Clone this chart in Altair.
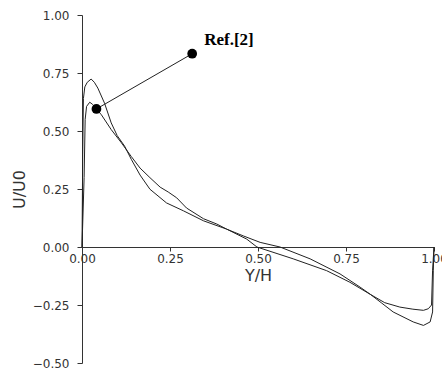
import altair as alt
import pandas as pd

# Curve A (higher near-wall peak)
a_x = [0.0, 0.002, 0.004, 0.008, 0.015, 0.026, 0.035, 0.045, 0.064, 0.083, 0.10, 0.121,
       0.14, 0.165, 0.193, 0.24, 0.288, 0.345, 0.411, 0.458, 0.506, 0.5625, 0.648, 0.733,
       0.79, 0.82, 0.85, 0.884, 0.941, 0.97, 0.989, 0.996, 0.998, 1.0]
a_y = [0.0, 0.40, 0.64, 0.69, 0.71, 0.724, 0.71, 0.685, 0.62, 0.535, 0.48, 0.435,
       0.378, 0.31, 0.249, 0.19, 0.156, 0.113, 0.077, 0.048, 0.02, 0.0, -0.051, -0.116,
       -0.173, -0.205, -0.24, -0.28, -0.323, -0.338, -0.323, -0.28, -0.1, 0.0]

# Curve B (lower near-wall peak)
b_x = [0.0, 0.006, 0.009, 0.013, 0.022, 0.03, 0.041, 0.055, 0.083, 0.112, 0.14, 0.165,
       0.193, 0.222, 0.245, 0.269, 0.297, 0.345, 0.383, 0.411, 0.468, 0.497, 0.6, 0.695,
       0.761, 0.82, 0.86, 0.903, 0.94, 0.97, 0.984, 0.993, 0.996, 1.0]
b_y = [0.0, 0.30, 0.55, 0.606, 0.624, 0.615, 0.595, 0.57, 0.506, 0.449, 0.39, 0.34,
       0.299, 0.258, 0.237, 0.212, 0.168, 0.122, 0.099, 0.077, 0.034, 0.0, -0.051, -0.102,
       -0.152, -0.205, -0.24, -0.259, -0.268, -0.273, -0.266, -0.25, -0.1, 0.0]

# Annotation "Ref.[2]" pointer
ref_x = [0.041, 0.313]
ref_y = [0.595, 0.833]
label_x = [0.347]
label_y = [0.871]
label_text = ["Ref.[2]"]

rows = []
for i, (x, y) in enumerate(zip(a_x, a_y)):
    rows.append({"x": x, "y": y, "series": "A", "i": i})
for i, (x, y) in enumerate(zip(b_x, b_y)):
    rows.append({"x": x, "y": y, "series": "B", "i": i})
curves = pd.DataFrame(rows)
ref = pd.DataFrame({"x": ref_x, "y": ref_y})
lab = pd.DataFrame({"x": label_x, "y": label_y, "t": label_text})

xs = alt.Scale(domain=[0, 1], nice=False, zero=False)
ys = alt.Scale(domain=[-0.5, 1.0], nice=False, zero=False)

xaxis = alt.Axis(values=[0, 0.25, 0.5, 0.75, 1.0], format=".2f", title="Y/H",
                 offset=-116, grid=False, tickSize=4, labelPadding=2,
                 titlePadding=3, labelFont="DejaVu Sans", labelFontSize=12,
                 titleFont="DejaVu Sans", titleFontSize=16, titleFontWeight="normal",
                 domainColor="#333", tickColor="#333", labelColor="#333",
                 titleColor="#333", labelFlush=False, labelOverlap=False)
yaxis = alt.Axis(values=[-0.5, -0.25, 0, 0.25, 0.5, 0.75, 1.0], format=".2f",
                 title="U/U0", grid=False, tickSize=5, labelPadding=8,
                 titlePadding=5, labelFont="DejaVu Sans", labelFontSize=12,
                 titleFont="DejaVu Sans", titleFontSize=16, titleFontWeight="normal",
                 domainColor="#333", tickColor="#333", labelColor="#333",
                 titleColor="#333", labelFlush=False, labelOverlap=False)

lines = alt.Chart(curves).mark_line(color="#222", strokeWidth=1).encode(
    x=alt.X("x:Q", scale=xs, axis=xaxis),
    y=alt.Y("y:Q", scale=ys, axis=yaxis),
    detail="series:N",
    order="i:Q",
)

pointer = alt.Chart(ref).mark_line(color="#222", strokeWidth=1).encode(
    x=alt.X("x:Q", scale=xs), y=alt.Y("y:Q", scale=ys)
)
dots = alt.Chart(ref).mark_circle(color="#000", opacity=1, size=95).encode(
    x=alt.X("x:Q", scale=xs), y=alt.Y("y:Q", scale=ys)
)
text = alt.Chart(lab).mark_text(font="Liberation Serif", fontWeight="bold",
                                fontSize=17, align="left", baseline="alphabetic",
                                color="#000").encode(
    x=alt.X("x:Q", scale=xs), y=alt.Y("y:Q", scale=ys), text="t:N"
)

chart = alt.layer(lines, pointer, dots, text).properties(
    width=352, height=348,
    autosize=alt.AutoSizeParams(type="none"),
    padding={"left": 82, "top": 15, "right": 8, "bottom": 10},
    background="white",
).configure_view(stroke=None)

chart.save("out.html", embed_options={"renderer": "svg", "actions": False})
